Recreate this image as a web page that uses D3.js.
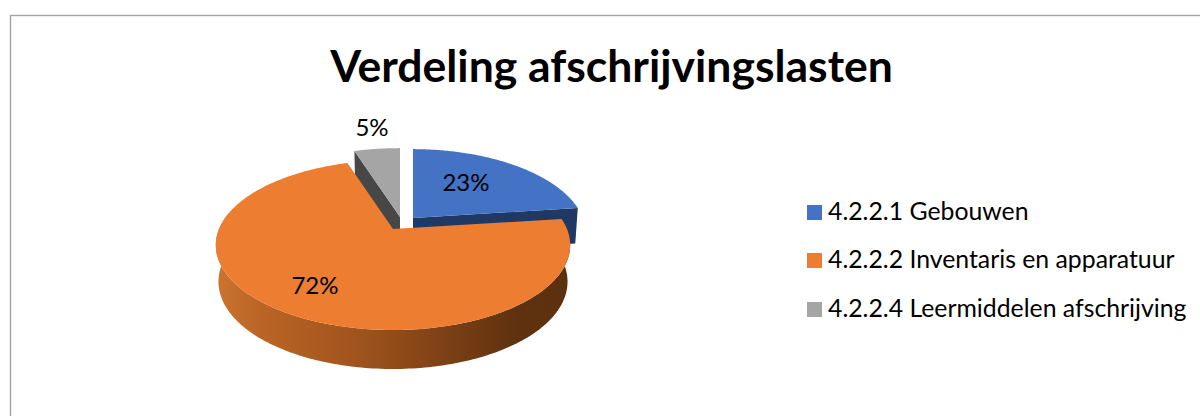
<!DOCTYPE html>
<html><head><meta charset="utf-8">
<script src="https://cdnjs.cloudflare.com/ajax/libs/d3/7.8.5/d3.min.js"></script>
<style>html,body{margin:0;padding:0;background:#fff;overflow:hidden}svg{display:block}text{font-family:Lato,"Open Sans",sans-serif;fill:#000}</style>
</head><body><svg id="c" width="1200" height="416"></svg>
<script>
const titleText = "Verdeling afschrijvingslasten";
const categories = ["4.2.2.1 Gebouwen","4.2.2.2 Inventaris en apparatuur","4.2.2.4 Leermiddelen afschrijving"];
const values = [23,72,5];
const labels = ["23%","72%","5%"];
const colors = ["#4472c4","#ed7d31","#a5a5a5"];
const wallColors = ["#1f3864",null,"#474747"];
const apexes = [[413,218],[393,229],[400,217]];
const labelPos = [[466,181],[315,284],[372,126]];
const legendY = [210.5,258.5,307.5];

const svg = d3.select("#c");
svg.append("rect").attr("x",10.5).attr("y",15.5).attr("width",1300).attr("height",500)
  .attr("fill","#fff").attr("stroke","#a3a3a3").attr("stroke-width",1.4);
svg.append("text").attr("x",611.5).attr("y",82).attr("text-anchor","middle")
  .attr("font-size",44.5).attr("font-weight",700).text(titleText);

const R=[170,174,174], Ry=81.9, p=0.189;
const pie=d3.pie().sort(null).value(d=>d)(values);
function proj(i,a,r=1){
  const u=Math.sin(a)*r, v=-Math.cos(a)*r, s=1/(1-p*v);
  return [apexes[i][0]+R[i]*u*s, apexes[i][1]+Ry*v*s, v];
}
function low(pt,i){ // matching point on the pie's lower rim
  const v=pt[2], k=0.985;
  return [apexes[i][0]+(pt[0]-apexes[i][0])*k, pt[1]+36+3*v];
}
const line=d3.line();
function rim(i,a0,a1,n=120){return d3.range(n+1).map(j=>proj(i,a0+(a1-a0)*j/n));}

const defs=svg.append("defs");
const grad=defs.append("linearGradient").attr("id","wall").attr("gradientUnits","userSpaceOnUse")
  .attr("x1",216).attr("x2",571).attr("y1",0).attr("y2",0);
[[0,"#cc7530"],[0.12,"#bb6526"],[0.4,"#a0541c"],[0.65,"#7c4015"],[0.85,"#5f310f"],[1,"#5c300e"]]
  .forEach(s=>grad.append("stop").attr("offset",s[0]).attr("stop-color",s[1]));

// blue: radial end wall, then top
function wallRadial(i,a){
  const A=[...apexes[i],0], B=proj(i,a);
  return line([A.slice(0,2),B.slice(0,2),low(B,i),low([A[0],A[1],0],i)])+"Z";
}
svg.append("path").attr("d",wallRadial(0,pie[0].endAngle)).attr("fill",wallColors[0]);
svg.append("path").attr("d",line([apexes[0],...rim(0,pie[0].startAngle,pie[0].endAngle).map(d=>d.slice(0,2))])+"Z").attr("fill",colors[0]);
// gray
svg.append("path").attr("d",wallRadial(2,pie[2].startAngle)).attr("fill",wallColors[2]);
svg.append("path").attr("d",line([apexes[2],...rim(2,pie[2].startAngle,pie[2].endAngle).map(d=>d.slice(0,2))])+"Z").attr("fill",colors[2]);
// orange outer wall: one continuous shape along the part of the rim facing the viewer
const oRim=rim(1,pie[1].startAngle,pie[1].endAngle,240);
const front=oRim.filter(d=>d[2]>-0.2);
svg.append("path").attr("d",line([...front.map(d=>d.slice(0,2)),...front.slice().reverse().map(d=>low(d,1))])+"Z")
  .attr("fill","url(#wall)");
svg.append("path").attr("d",line([apexes[1],...oRim.map(d=>d.slice(0,2))])+"Z").attr("fill",colors[1]);

labels.forEach((t,i)=>svg.append("text").attr("x",labelPos[i][0]).attr("y",labelPos[i][1])
  .attr("text-anchor","middle").attr("dominant-baseline","central").attr("font-size",24).text(t));

categories.forEach((c,i)=>{
  svg.append("rect").attr("x",807).attr("y",[205,253,302][i]).attr("width",15).attr("height",15).attr("fill",colors[i]);
  svg.append("text").attr("x",828).attr("y",legendY[i]).attr("dominant-baseline","central").attr("font-size",24.8).text(c);
});
</script></body></html>
